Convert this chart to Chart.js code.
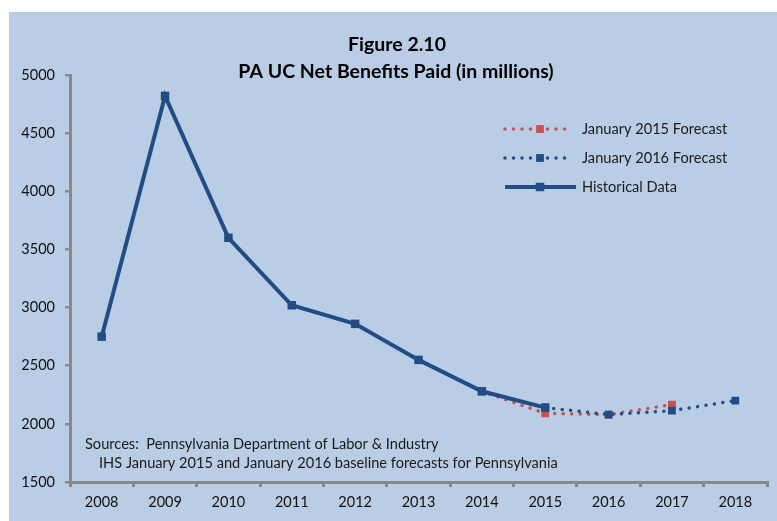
<!DOCTYPE html>
<html>
<head>
  <title>PA UC Net Benefits Paid</title>
  <script src="https://cdn.jsdelivr.net/npm/chart.js"></script>
  <style>
    body {
      margin: 0;
      background: white;
    }
    #chart {
      display: block;
    }
  </style>
</head>
<body>
  <canvas id="chart" width="777" height="521"></canvas>

  <script>
    // chart data
    const years = ["2008", "2009", "2010", "2011", "2012", "2013", "2014", "2015", "2016", "2017", "2018"];
    const historical = [2750, 4820, 3600, 3020, 2860, 2550, 2280, 2140, null, null, null];
    const forecast2015 = [null, null, null, null, null, null, 2280, 2090, 2080, 2165, null];
    const forecast2016 = [null, null, null, null, null, null, null, 2140, 2080, 2113, 2200];
    const titleLines = ["Figure 2.10", "PA UC Net Benefits Paid (in millions)"];
    const sourceLines = [
      "Sources:  Pennsylvania Department of Labor & Industry",
      "IHS January 2015 and January 2016 baseline forecasts for Pennsylvania"
    ];

    const panelColor = "#B9CDE5";
    const blue = "#224C84";
    const red = "#C9504D";
    const axisGray = "#898989";
    const fontFamily = "Lato, 'Open Sans', sans-serif";

    // light blue panel behind everything
    const panelPlugin = {
      id: "panel",
      beforeDraw(chart) {
        const ctx = chart.ctx;
        ctx.save();
        ctx.fillStyle = "white";
        ctx.fillRect(0, 0, chart.width, chart.height);
        ctx.fillStyle = panelColor;
        ctx.fillRect(9, 12, chart.width - 9, chart.height - 12);
        ctx.restore();
      }
    };

    // title, sources note and the legend with line samples
    const textPlugin = {
      id: "texts",
      afterDraw(chart) {
        const ctx = chart.ctx;
        ctx.save();
        ctx.fillStyle = "#000";
        ctx.textAlign = "center";
        ctx.textBaseline = "middle";
        ctx.font = "bold 19.5px " + fontFamily;
        ctx.fillText(titleLines[0], 397, 45);
        ctx.fillText(titleLines[1], 396, 72);

        ctx.textAlign = "left";
        ctx.font = "14.6px " + fontFamily;
        ctx.fillStyle = "#1a1a1a";
        ctx.fillText(sourceLines[0], 85, 444);
        ctx.fillText(sourceLines[1], 99, 463);

        // legend
        const rows = [2, 1, 0];
        rows.forEach((dsIndex, i) => {
          const ds = chart.data.datasets[dsIndex];
          const y = 129 + i * 29;
          const x0 = 505;
          const x1 = ds.borderDash.length ? 569 : 576;
          ctx.strokeStyle = ds.borderColor;
          ctx.lineWidth = ds.borderWidth;
          ctx.lineCap = ds.borderDash.length ? "round" : "butt";
          ctx.setLineDash(ds.borderDash);
          ctx.beginPath();
          ctx.moveTo(x0, y);
          ctx.lineTo(x1, y);
          ctx.stroke();
          ctx.setLineDash([]);
          const s = ds.pointRadius * Math.SQRT1_2;
          ctx.fillStyle = ds.pointBackgroundColor;
          ctx.fillRect(540 - s, y - s, 2 * s, 2 * s);
          ctx.fillStyle = "#1a1a1a";
          ctx.font = "14.6px " + fontFamily;
          ctx.fillText(ds.label, 582, y);
        });
        ctx.restore();
      }
    };

    new Chart(document.getElementById("chart").getContext("2d"), {
      type: "line",
      data: {
        labels: years,
        datasets: [
          {
            label: "Historical Data",
            data: historical,
            borderColor: blue,
            borderWidth: 4,
            borderDash: [],
            pointStyle: "rect",
            pointRadius: 6,
            pointBackgroundColor: blue,
            pointBorderWidth: 0,
            order: 0
          },
          {
            label: "January 2016 Forecast",
            data: forecast2016,
            borderColor: blue,
            borderWidth: 3.5,
            borderDash: [0.01, 8.5],
            borderCapStyle: "round",
            pointStyle: "rect",
            pointRadius: 5.5,
            pointBackgroundColor: blue,
            pointBorderWidth: 0,
            order: 1
          },
          {
            label: "January 2015 Forecast",
            data: forecast2015,
            borderColor: red,
            borderWidth: 3.5,
            borderDash: [0.01, 8.5],
            borderCapStyle: "round",
            pointStyle: "rect",
            pointRadius: 5.5,
            pointBackgroundColor: red,
            pointBorderWidth: 0,
            order: 2
          }
        ]
      },
      options: {
        responsive: false,
        animation: false,
        spanGaps: false,
        layout: {
          padding: { top: 75, right: 10, left: 0, bottom: 0 }
        },
        plugins: {
          legend: { display: false },
          title: { display: false },
          tooltip: { enabled: false }
        },
        scales: {
          x: {
            offset: true,
            grid: {
              offset: true,
              drawOnChartArea: false,
              drawTicks: true,
              tickLength: 5,
              color: axisGray,
              lineWidth: 3
            },
            border: { color: axisGray, width: 3 },
            ticks: {
              color: "#111",
              font: { family: fontFamily, size: 14.5 },
              padding: 7,
              maxRotation: 0
            },
            afterFit(scale) { scale.height = 39; }
          },
          y: {
            min: 1500,
            max: 5000,
            ticks: {
              stepSize: 500,
              color: "#111",
              font: { family: fontFamily, size: 14.5 },
              padding: 10,
              callback: value => String(value)
            },
            grid: {
              drawOnChartArea: false,
              drawTicks: true,
              tickLength: 5,
              color: axisGray,
              lineWidth: 2.5
            },
            border: { color: axisGray, width: 3 },
            afterFit(scale) { scale.width = 70; }
          }
        }
      },
      plugins: [panelPlugin, textPlugin]
    });
  </script>
</body>
</html>
